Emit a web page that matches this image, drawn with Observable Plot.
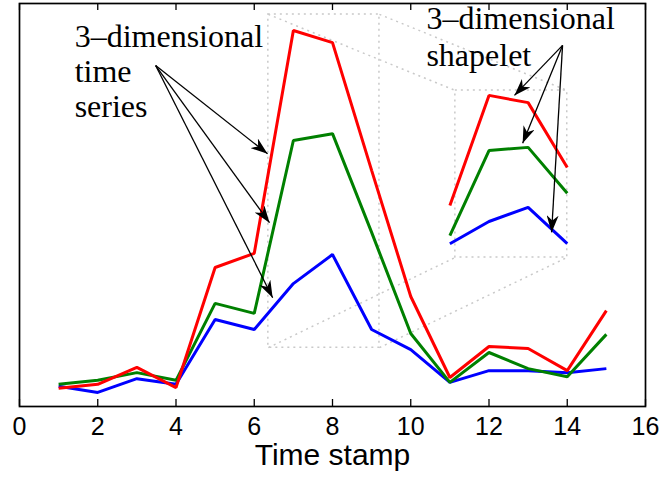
<!DOCTYPE html>
<html><head><meta charset="utf-8">
<script src="https://cdn.jsdelivr.net/npm/d3@7"></script>
<script src="https://cdn.jsdelivr.net/npm/@observablehq/plot@0.6"></script>
<style>body{margin:0;background:#fff}</style>
</head><body><div id="chart"></div>
<script>
// ---- data (y in arbitrary units, 0–100) ----
const timeStamps = [1,2,3,4,5,6,7,8,9,10,11,12,13,14,15];
const redSeries   = [4.5,5.5,9.7,4.7,34.5,38.0,93.3,90.3,58.6,27.3,7.2,14.9,14.4,8.9,23.8];
const greenSeries = [5.5,6.5,8.4,6.5,25.6,23.1,66.0,67.7,43.2,18.1,6.0,13.4,9.4,7.4,17.9];
const blueSeries  = [5.0,3.5,6.9,5.5,21.6,19.1,30.5,37.7,19.1,14.1,6.0,8.9,8.9,8.4,9.4];

const shapeletTimes = [11,12,13,14];
const shapeletRed   = [49.9,77.2,75.4,59.3];
const shapeletGreen = [42.4,63.5,64.3,52.9];
const shapeletBlue  = [40.4,45.9,49.4,40.4];

const xTicks = [0,2,4,6,8,10,12,14,16];

const sourceBoxX = [6.36, 9.2];
const sourceBoxY = [14.6, 97.3];
const insetBoxX = [11.14, 14.0];
const insetBoxY = [37.0, 78.4];

const seriesArrowFrom = [3.48, 84.6];
const seriesArrowTipX = [6.34, 6.39, 6.47];
const seriesArrowTipY = [62.7, 45.6, 27.0];
const shapeletArrowFrom = [13.88, 89.6];
const shapeletArrowTipX = [12.65, 12.86, 13.6];
const shapeletArrowTipY = [77.2, 65.3, 43.2];

const seriesLabel = "3–dimensional\ntime\nseries";
const seriesLabelPos = [1.41, 95.4];
const shapeletLabel = "3–dimensional\nshapelet";
const shapeletLabelPos = [10.4, 100.3];
const xLabel = "Time stamp";

const seriesNames = ["blue","green","red"];
const seriesColors = ["#0000ff","#008000","#ff0000"];

// ---- build tables ----
const mainRows = [];
[[blueSeries,"blue"],[greenSeries,"green"],[redSeries,"red"]].forEach(([vals,name]) =>
  vals.forEach((v,i) => mainRows.push({t: timeStamps[i], v, s: name})));
const insetRows = [];
[[shapeletBlue,"blue"],[shapeletGreen,"green"],[shapeletRed,"red"]].forEach(([vals,name]) =>
  vals.forEach((v,i) => insetRows.push({t: shapeletTimes[i], v, s: name})));

const boxes = [
  {x1: sourceBoxX[0], x2: sourceBoxX[1], y1: sourceBoxY[0], y2: sourceBoxY[1]},
  {x1: insetBoxX[0], x2: insetBoxX[1], y1: insetBoxY[0], y2: insetBoxY[1]}
];
const connectors = [
  {x1: sourceBoxX[0], y1: sourceBoxY[1], x2: insetBoxX[0], y2: insetBoxY[1]},
  {x1: sourceBoxX[1], y1: sourceBoxY[1], x2: insetBoxX[1], y2: insetBoxY[1]},
  {x1: sourceBoxX[0], y1: sourceBoxY[0], x2: insetBoxX[0], y2: insetBoxY[0]},
  {x1: sourceBoxX[1], y1: sourceBoxY[0], x2: insetBoxX[1], y2: insetBoxY[0]}
];
const arrows = [];
seriesArrowTipX.forEach((x,i) => arrows.push({x1: seriesArrowFrom[0], y1: seriesArrowFrom[1], x2: x, y2: seriesArrowTipY[i]}));
shapeletArrowTipX.forEach((x,i) => arrows.push({x1: shapeletArrowFrom[0], y1: shapeletArrowFrom[1], x2: x, y2: shapeletArrowTipY[i]}));

function filledHead(color) {
  const ns = "http://www.w3.org/2000/svg";
  const m = document.createElementNS(ns, "marker");
  m.setAttribute("viewBox", "-17 -6 17 12");
  m.setAttribute("markerWidth", "17");
  m.setAttribute("markerHeight", "12");
  m.setAttribute("markerUnits", "userSpaceOnUse");
  m.setAttribute("orient", "auto");
  m.setAttribute("refX", "0");
  m.setAttribute("refY", "0");
  const p = document.createElementNS(ns, "path");
  p.setAttribute("d", "M0,0L-17,-6L-12,0L-17,6Z");
  p.setAttribute("fill", color);
  p.setAttribute("stroke", "none");
  m.appendChild(p);
  return m;
}

const dotted = {stroke: "#c9c9c9", strokeWidth: 1.5, strokeDasharray: "2,4"};
const serif = "'Liberation Serif','Times New Roman',serif";
const sans = "'Liberation Sans',Arial,Helvetica,sans-serif";

const chart = Plot.plot({
  width: 664,
  height: 477,
  marginLeft: 19,
  marginRight: 19,
  marginTop: 3,
  marginBottom: 71,
  style: {background: "#fff", overflow: "visible"},
  x: {domain: [0, 16], axis: null},
  y: {domain: [0, 100], axis: null},
  color: {domain: seriesNames, range: seriesColors},
  marks: [
    Plot.rect(boxes, {x1: "x1", x2: "x2", y1: "y1", y2: "y2", fill: "none", ...dotted}),
    Plot.link(connectors, {x1: "x1", y1: "y1", x2: "x2", y2: "y2", ...dotted}),
    Plot.line(mainRows, {x: "t", y: "v", z: "s", stroke: "s", strokeWidth: 3, strokeLinejoin: "miter", strokeLinecap: "butt"}),
    Plot.line(insetRows, {x: "t", y: "v", z: "s", stroke: "s", strokeWidth: 3, strokeLinejoin: "miter", strokeLinecap: "butt"}),
    Plot.link(arrows, {x1: "x1", y1: "y1", x2: "x2", y2: "y2", stroke: "black", strokeWidth: 1.3, markerEnd: filledHead}),
    Plot.text([seriesLabel], {x: seriesLabelPos[0], y: seriesLabelPos[1], text: d => d, textAnchor: "start", lineAnchor: "top", lineHeight: 1.1, fontSize: 32, fontFamily: serif, fill: "black"}),
    Plot.text([shapeletLabel], {x: shapeletLabelPos[0], y: shapeletLabelPos[1], text: d => d, textAnchor: "start", lineAnchor: "top", lineHeight: 1.156, fontSize: 32, fontFamily: serif, fill: "black"}),
    Plot.ruleX(xTicks, {x: d => d, stroke: "black", strokeWidth: 1.3, insetTop: 396}),
    Plot.ruleX(xTicks, {x: d => d, stroke: "black", strokeWidth: 1.3, insetBottom: 396}),
    Plot.axisX({ticks: xTicks, tickSize: 0, tickPadding: 11, fontSize: 25, fontFamily: sans, label: null, tickFormat: d => String(d)}),
    Plot.text([xLabel], {frameAnchor: "bottom", dy: 58, lineAnchor: "bottom", fontSize: 30, fontFamily: sans, fill: "black"}),
    Plot.frame({stroke: "black", strokeWidth: 1.7})
  ]
});
document.getElementById("chart").appendChild(chart);
</script>
</body></html>
